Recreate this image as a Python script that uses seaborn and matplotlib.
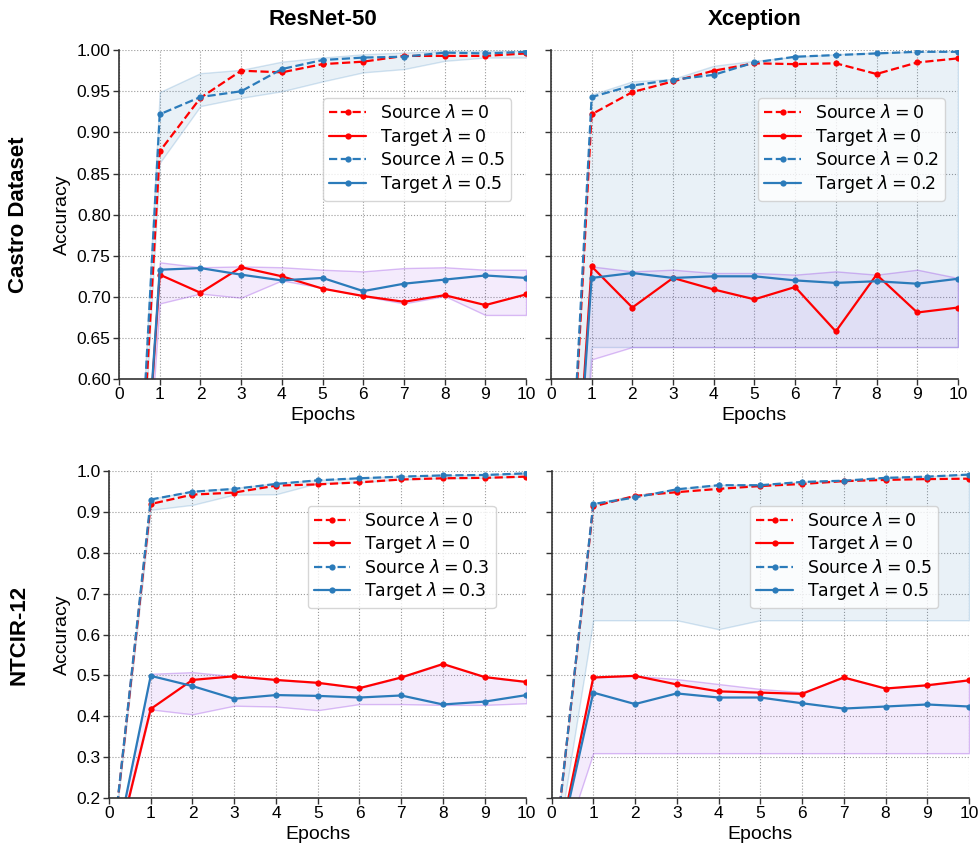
import numpy as np
import matplotlib
matplotlib.use("Agg")
import matplotlib.pyplot as plt
import seaborn as sns
from matplotlib.colors import to_rgba

epochs = list(range(11))
col_titles = ["ResNet-50", "Xception"]
row_titles = ["Castro Dataset", "NTCIR-12"]
lambdas = [["0.5", "0.2"], ["0.3", "0.5"]]

# Castro / ResNet-50
c_rn_src0 = [0, 0.877, 0.942, 0.975, 0.973, 0.983, 0.986, 0.993, 0.993, 0.993, 0.996]
c_rn_tgt0 = [0, 0.727, 0.705, 0.736, 0.725, 0.710, 0.701, 0.694, 0.702, 0.690, 0.703]
c_rn_src1 = [0, 0.922, 0.943, 0.950, 0.977, 0.988, 0.991, 0.992, 0.997, 0.996, 0.998]
c_rn_tgt1 = [0, 0.733, 0.735, 0.727, 0.720, 0.723, 0.707, 0.716, 0.721, 0.726, 0.723]
c_rn_src_lo = [0, 0.863, 0.932, 0.942, 0.950, 0.962, 0.973, 0.977, 0.987, 0.991, 0.991]
c_rn_src_hi = [0, 0.949, 0.972, 0.976, 0.986, 0.991, 0.995, 0.997, 0.999, 0.999, 0.999]
c_rn_tgt_lo = [0, 0.692, 0.704, 0.699, 0.720, 0.711, 0.701, 0.692, 0.701, 0.678, 0.678]
c_rn_tgt_hi = [0, 0.742, 0.736, 0.737, 0.736, 0.733, 0.731, 0.735, 0.736, 0.733, 0.733]

# Castro / Xception
c_xc_src0 = [0, 0.922, 0.949, 0.962, 0.975, 0.984, 0.983, 0.984, 0.971, 0.985, 0.990]
c_xc_tgt0 = [0, 0.737, 0.687, 0.723, 0.709, 0.697, 0.712, 0.658, 0.727, 0.681, 0.687]
c_xc_src1 = [0, 0.943, 0.957, 0.964, 0.970, 0.985, 0.992, 0.994, 0.996, 0.998, 0.998]
c_xc_tgt1 = [0, 0.723, 0.729, 0.723, 0.725, 0.725, 0.720, 0.717, 0.719, 0.716, 0.722]
c_xc_src_lo = [0, 0.639, 0.639, 0.639, 0.639, 0.639, 0.639, 0.639, 0.639, 0.639, 0.639]
c_xc_src_hi = [0, 0.946, 0.962, 0.965, 0.981, 0.987, 0.992, 0.995, 0.997, 0.998, 0.999]
c_xc_tgt_lo = [0, 0.624, 0.639, 0.639, 0.639, 0.639, 0.639, 0.639, 0.639, 0.639, 0.639]
c_xc_tgt_hi = [0, 0.737, 0.731, 0.733, 0.729, 0.729, 0.727, 0.731, 0.727, 0.733, 0.723]

# NTCIR-12 / ResNet-50
n_rn_src0 = [0, 0.919, 0.942, 0.947, 0.964, 0.967, 0.972, 0.979, 0.982, 0.983, 0.986]
n_rn_tgt0 = [0, 0.418, 0.489, 0.498, 0.489, 0.482, 0.469, 0.495, 0.528, 0.496, 0.484]
n_rn_src1 = [0, 0.930, 0.949, 0.956, 0.968, 0.977, 0.982, 0.986, 0.989, 0.990, 0.994]
n_rn_tgt1 = [0, 0.499, 0.474, 0.443, 0.452, 0.450, 0.446, 0.451, 0.429, 0.436, 0.452]
n_rn_src_lo = [0, 0.905, 0.917, 0.942, 0.943, 0.970, 0.972, 0.979, 0.982, 0.983, 0.986]
n_rn_src_hi = [0, 0.932, 0.951, 0.958, 0.970, 0.978, 0.983, 0.987, 0.989, 0.991, 0.994]
n_rn_tgt_lo = [0, 0.417, 0.405, 0.426, 0.424, 0.415, 0.430, 0.430, 0.428, 0.428, 0.432]
n_rn_tgt_hi = [0, 0.504, 0.508, 0.498, 0.489, 0.482, 0.469, 0.495, 0.528, 0.496, 0.484]

# NTCIR-12 / Xception
n_xc_src0 = [0, 0.913, 0.939, 0.948, 0.956, 0.963, 0.968, 0.975, 0.978, 0.980, 0.981]
n_xc_tgt0 = [0, 0.495, 0.499, 0.478, 0.461, 0.458, 0.455, 0.495, 0.468, 0.476, 0.488]
n_xc_src1 = [0, 0.919, 0.935, 0.955, 0.965, 0.965, 0.973, 0.976, 0.983, 0.986, 0.991]
n_xc_tgt1 = [0, 0.458, 0.430, 0.456, 0.446, 0.446, 0.432, 0.419, 0.424, 0.429, 0.424]
n_xc_src_lo = [0, 0.635, 0.635, 0.635, 0.613, 0.635, 0.635, 0.635, 0.635, 0.635, 0.635]
n_xc_src_hi = [0, 0.921, 0.940, 0.956, 0.966, 0.966, 0.974, 0.977, 0.984, 0.987, 0.992]
n_xc_tgt_lo = [0, 0.310, 0.310, 0.310, 0.310, 0.310, 0.310, 0.310, 0.310, 0.310, 0.310]
n_xc_tgt_hi = [0, 0.495, 0.499, 0.491, 0.479, 0.467, 0.459, 0.495, 0.468, 0.476, 0.488]

panels = [
    [(c_rn_src0, c_rn_tgt0, c_rn_src1, c_rn_tgt1, c_rn_src_lo, c_rn_src_hi, c_rn_tgt_lo, c_rn_tgt_hi),
     (c_xc_src0, c_xc_tgt0, c_xc_src1, c_xc_tgt1, c_xc_src_lo, c_xc_src_hi, c_xc_tgt_lo, c_xc_tgt_hi)],
    [(n_rn_src0, n_rn_tgt0, n_rn_src1, n_rn_tgt1, n_rn_src_lo, n_rn_src_hi, n_rn_tgt_lo, n_rn_tgt_hi),
     (n_xc_src0, n_xc_tgt0, n_xc_src1, n_xc_tgt1, n_xc_src_lo, n_xc_src_hi, n_xc_tgt_lo, n_xc_tgt_hi)],
]

sns.set_theme(style="ticks")
plt.rcParams["font.family"] = ["Liberation Sans", "DejaVu Sans"]
plt.rcParams["mathtext.fontset"] = "dejavusans"
plt.rcParams["text.color"] = "black"
plt.rcParams["axes.labelcolor"] = "black"
plt.rcParams["xtick.labelcolor"] = "black"
plt.rcParams["ytick.labelcolor"] = "black"

RED = "#ff0000"
BLUE = "#2b7bba"
PURPLE = "blueviolet"

fig = plt.figure(figsize=(9.79, 8.5), dpi=100)
gs_top = fig.add_gridspec(1, 2, left=0.1216, right=0.9785, top=0.941, bottom=0.554, wspace=0.061)
gs_bot = fig.add_gridspec(1, 2, left=0.1113, right=0.9898, top=0.446, bottom=0.061, wspace=0.06)

row_ylim = [(0.60, 1.00), (0.2, 1.0)]
row_yticks = [np.arange(0.60, 1.001, 0.05), np.arange(0.2, 1.001, 0.1)]
row_fmt = ["{:.2f}", "{:.1f}"]
legend_anchor = [[(0.963, 0.854), (0.968, 0.854)], [(0.926, 0.893), (0.926, 0.893)]]

for r, gs in enumerate([gs_top, gs_bot]):
    for c in range(2):
        ax = fig.add_subplot(gs[0, c])
        src0, tgt0, src1, tgt1, slo, shi, tlo, thi = panels[r][c]
        lam = lambdas[r][c]

        # shaded spread of source and target runs
        ax.fill_between(epochs, slo, shi, facecolor=to_rgba(BLUE, 0.1),
                        edgecolor=to_rgba(BLUE, 0.2), linewidth=1, zorder=1)
        ax.fill_between(epochs, tlo, thi, facecolor=to_rgba(PURPLE, 0.09),
                        edgecolor=to_rgba(PURPLE, 0.3), linewidth=1, zorder=1)

        kw = dict(ax=ax, marker="o", markersize=4.5, markeredgewidth=0, linewidth=1.6)
        sns.lineplot(x=epochs, y=src0, color=RED, linestyle="--", label=r"Source $\lambda = 0$", **kw)
        sns.lineplot(x=epochs, y=tgt0, color=RED, linestyle="-", label=r"Target $\lambda = 0$", **kw)
        sns.lineplot(x=epochs, y=src1, color=BLUE, linestyle="--", label=rf"Source $\lambda = {lam}$", **kw)
        sns.lineplot(x=epochs, y=tgt1, color=BLUE, linestyle="-", label=rf"Target $\lambda = {lam}$", **kw)

        ax.set_xlim(0, 10)
        ax.set_ylim(*row_ylim[r])
        ax.set_xticks(range(11))
        ax.set_yticks(row_yticks[r])
        ax.set_yticklabels([row_fmt[r].format(v) for v in row_yticks[r]])
        ax.grid(True, linestyle=":", linewidth=0.8, color="#9a9a9a")
        ax.tick_params(labelsize=12.5, length=4, width=1, color="#333333", pad=2)
        for s in ["left", "bottom"]:
            ax.spines[s].set_color("#333333")
            ax.spines[s].set_linewidth(1.2)
        sns.despine(ax=ax)

        ax.set_xlabel("Epochs", fontsize=14, labelpad=3)
        if c == 0:
            ax.set_ylabel("Accuracy", fontsize=14, labelpad=4)
        else:
            ax.set_ylabel("")
            ax.tick_params(labelleft=False)
        if r == 0:
            ax.set_title(col_titles[c], fontsize=16, fontweight="bold", pad=18)

        leg = ax.legend(loc="upper right", bbox_to_anchor=legend_anchor[r][c],
                        borderaxespad=0, prop={"family": "DejaVu Sans", "size": 12.5},
                        handlelength=2.1, framealpha=0.8, borderpad=0.35, labelspacing=0.2)
        leg.get_frame().set_edgecolor("#cccccc")

fig.text(0.019, 1 - 215 / 850, row_titles[0], rotation=90, fontsize=16,
         fontweight="bold", ha="center", va="center")
fig.text(0.019, 1 - 635 / 850, row_titles[1], rotation=90, fontsize=16,
         fontweight="bold", ha="center", va="center")

fig.savefig("out.png", dpi=100)
